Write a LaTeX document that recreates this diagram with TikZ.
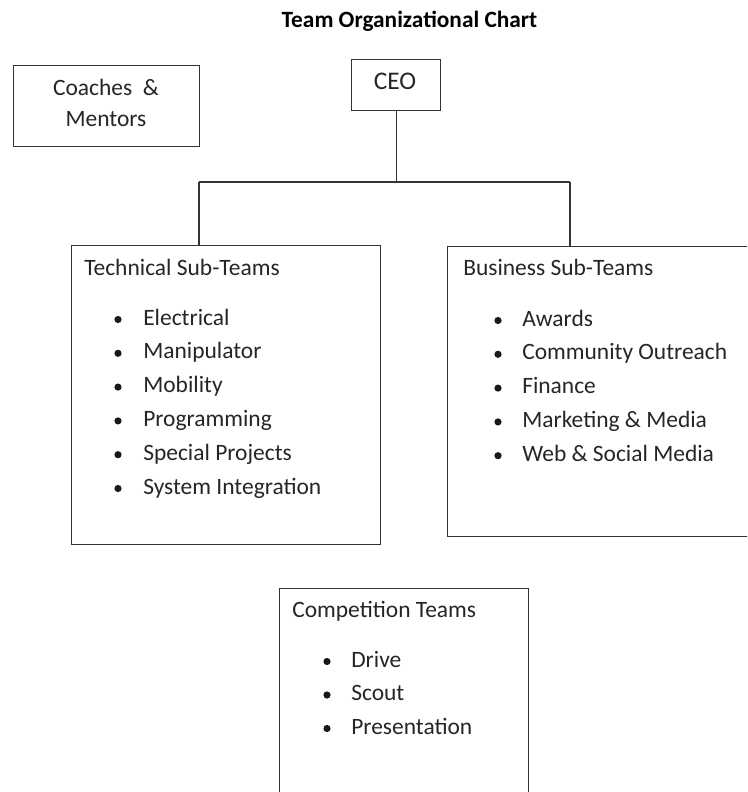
\documentclass[tikz,border=0pt]{standalone}
\usepackage{fontspec}
\setmainfont{Carlito}
\begin{document}
\begin{tikzpicture}[x=0.75pt,y=-0.75pt,
  box/.style={draw=black!80, line width=0.85pt, inner sep=0pt, anchor=north west},
  txt/.style={anchor=base west, inner sep=0pt, font=\fontsize{17.6}{21}\selectfont, text=black!85},
  ctxt/.style={anchor=base, inner sep=0pt, font=\fontsize{17.6}{21}\selectfont, text=black!85},
  link/.style={draw=black!80, line width=0.85pt},
  dot/.style={fill=black!90}]
\useasboundingbox (0,0) rectangle (747,792);
\clip (0,0) rectangle (747,792);
\fill[white] (0,0) rectangle (747,792);

\node[ctxt, font=\fontsize{17.5}{21}\selectfont\bfseries, text=black] (title) at (409.5,27.5) {Team Organizational Chart};

% boxes
\node[box, minimum width={186*0.75pt}, minimum height={81*0.75pt}] (coach) at (13,65) {};
\node[box, minimum width={89*0.75pt}, minimum height={51*0.75pt}] (ceo) at (351,59) {};
\node[box, minimum width={309*0.75pt}, minimum height={299*0.75pt}] (tech) at (71,245) {};
\node[box, minimum width={330*0.75pt}, minimum height={290*0.75pt}] (bus) at (447,246) {};
\node[box, minimum width={249*0.75pt}, minimum height={240*0.75pt}] (comp) at (279,588) {};

% box texts
\node[ctxt] (coach1) at (106,95) {Coaches\ \ \&};
\node[ctxt] (coach2) at (106,127) {Mentors};
\node[ctxt, font=\fontsize{19}{22}\selectfont] (ceotxt) at (395,89.5) {CEO};

\node[txt] (techt) at (84,275) {Technical Sub-Teams};
\foreach \s [count=\i from 0] in {Electrical,Manipulator,Mobility,Programming,Special Projects,System Integration}{
  \fill[dot] (118,{325+33.8*\i-5.5}) circle[radius=2.7pt];
  \node[txt] (tech-\i) at (143,{325+33.8*\i}) {\s};
}

\node[txt] (bust) at (463,275) {Business Sub-Teams};
\foreach \s [count=\i from 0] in {Awards,Community Outreach,Finance,Marketing \& Media,Web \& Social Media}{
  \fill[dot] (498,{326+33.8*\i-5.5}) circle[radius=2.7pt];
  \node[txt] (bus-\i) at (522,{326+33.8*\i}) {\s};
}

\node[txt] (compt) at (292,617) {Competition Teams};
\foreach \s [count=\i from 0] in {Drive,Scout,Presentation}{
  \fill[dot] (327,{667+33.5*\i-5.5}) circle[radius=2.7pt];
  \node[txt] (comp-\i) at (351,{667+33.5*\i}) {\s};
}

% connectors
\coordinate (jl) at (199,182);
\coordinate (jr) at (570,182);
\draw[link] (ceo.south) -- (ceo.south |- jl);
\draw[link] (jl) -- (jr);
\draw[link] (jl) -- (jl |- tech.north);
\draw[link] (jr) -- (jr |- bus.north);
\end{tikzpicture}
\end{document}
